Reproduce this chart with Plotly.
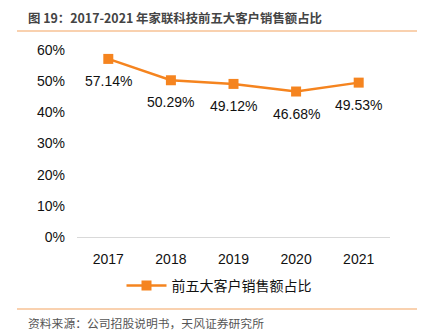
import plotly.graph_objects as go

years = ["2017", "2018", "2019", "2020", "2021"]
share = [57.14, 50.29, 49.12, 46.68, 49.53]
labels = ["57.14%", "50.29%", "49.12%", "46.68%", "49.53%"]
series_name = "前五大客户销售额占比"
title = "图 19：2017-2021 年家联科技前五大客户销售额占比"
source = "资料来源：公司招股说明书，天风证券研究所"

orange = "#F5841F"
W, H = 431, 335
L, R, T, B = 77, 41, 50, 98
pw, ph = W - L - R, H - T - B

def px(x):
    return (x - L) / pw

def py(y):
    return 1 - (y - T) / ph

fig = go.Figure()
fig.add_trace(go.Scatter(
    x=years, y=share, mode="lines+markers", name=series_name,
    line=dict(color=orange, width=2.5),
    marker=dict(symbol="square", size=10, color=orange),
))

annos = [
    dict(x=i, y=v, text=t, xref="x", yref="y", showarrow=False,
         yshift=-22, font=dict(family="Liberation Sans, Arial, sans-serif", size=14, color="#111"))
    for i, (v, t) in enumerate(zip(share, labels))
]
annos += [
    dict(text="<b>" + title + "</b>", xref="paper", yref="paper", x=px(26), y=py(18),
         xanchor="left", yanchor="middle", showarrow=False,
         font=dict(family="Noto Sans CJK SC, sans-serif", size=12.4, color="#444")),
    dict(text=source, xref="paper", yref="paper", x=px(26), y=py(322),
         xanchor="left", yanchor="middle", showarrow=False,
         font=dict(family="Noto Sans CJK SC, sans-serif", size=11.8, color="#555")),
]

fig.update_layout(
    width=W, height=H,
    margin=dict(l=L, r=R, t=T, b=B, pad=0),
    paper_bgcolor="white", plot_bgcolor="white",
    font=dict(family="Liberation Sans, Noto Sans CJK SC, sans-serif", size=14, color="#111"),
    showlegend=True,
    legend=dict(orientation="h", x=px(219), xanchor="center", y=py(286), yanchor="middle",
                font=dict(family="Noto Sans CJK SC, sans-serif", size=14, color="#111"),
                itemwidth=40),
    xaxis=dict(type="category", range=[-0.5, 4.5], showgrid=False, showline=True,
               linecolor="#d9d9d9", linewidth=1,
               ticks="", tickfont=dict(size=14), ticklabelstandoff=9),
    yaxis=dict(range=[0, 60], dtick=10, ticksuffix="%", showgrid=False, zeroline=False,
               showline=False, ticks="", tickfont=dict(size=14), ticklabelstandoff=11),
    shapes=[
        dict(type="line", xref="paper", yref="paper", x0=px(17), x1=px(417), y0=py(31), y1=py(31),
             line=dict(color="#F4A460", width=1.2)),
        dict(type="line", xref="paper", yref="paper", x0=px(17), x1=px(417), y0=py(309), y1=py(309),
             line=dict(color="#F4A460", width=1.2)),
    ],
    annotations=annos,
)

fig.write_html("out.html")
